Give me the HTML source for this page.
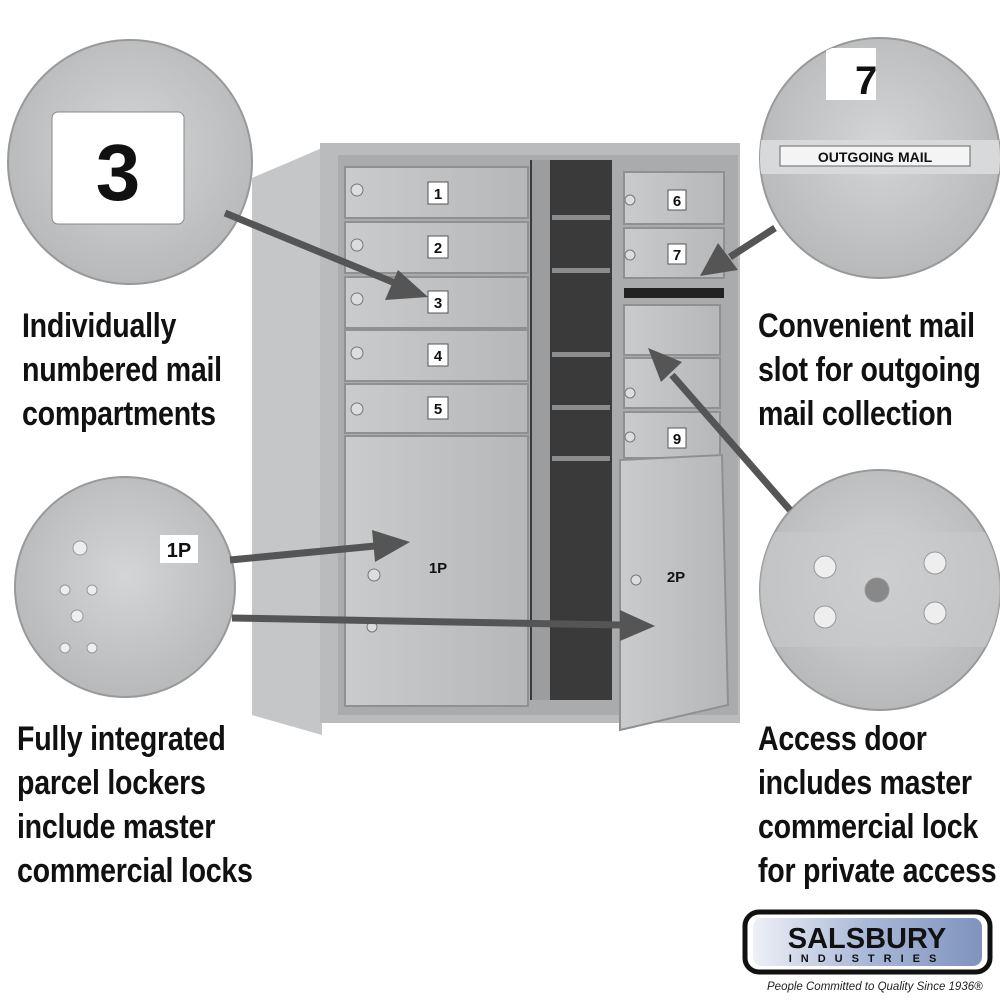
<!DOCTYPE html>
<html><head><style>
body{margin:0;width:1000px;height:1000px;background:#fff;position:relative;overflow:hidden;font-family:"Liberation Sans",sans-serif}
.t{position:absolute;font-weight:bold;font-size:34px;line-height:44px;color:#111;white-space:nowrap;transform:scaleX(0.84);transform-origin:0 0;letter-spacing:-0.3px}
</style></head><body>
<svg width="1000" height="1000" style="position:absolute;left:0;top:0">
<defs>
<radialGradient id="cg" cx="50%" cy="45%" r="60%"><stop offset="0" stop-color="#d4d5d6"/><stop offset="1" stop-color="#b4b6b8"/></radialGradient>
<linearGradient id="dg" x1="0" x2="1"><stop offset="0" stop-color="#c9cbcd"/><stop offset="1" stop-color="#b5b7b9"/></linearGradient>
<linearGradient id="lg" x1="0" x2="1"><stop offset="0" stop-color="#eef0f6"/><stop offset=".5" stop-color="#a8b8d8"/><stop offset="1" stop-color="#7f93bd"/></linearGradient>
<clipPath id="c2"><circle cx="880" cy="158" r="120"/></clipPath>
<clipPath id="c4"><circle cx="880" cy="590" r="120"/></clipPath>
</defs>
<polygon points="252,178 322,148 322,735 252,715" fill="#c4c6c8"/>
<rect x="320" y="143" width="420" height="580" fill="#b9bbbd"/>
<rect x="338" y="155" width="400" height="560" fill="#a9abad"/>
<rect x="530" y="160" width="82" height="540" fill="#3a3a3a"/>
<g fill="#8a8c8e"><rect x="552" y="215" width="58" height="5"/><rect x="552" y="268" width="58" height="5"/><rect x="552" y="352" width="58" height="5"/><rect x="552" y="405" width="58" height="5"/><rect x="552" y="456" width="58" height="5"/></g>
<rect x="532" y="160" width="18" height="540" fill="#9b9d9f"/>
<g fill="url(#dg)" stroke="#8e9092" stroke-width="2">
<rect x="345" y="167" width="183" height="51"/><rect x="345" y="222" width="183" height="51"/><rect x="345" y="277" width="183" height="51"/><rect x="345" y="330" width="183" height="51"/><rect x="345" y="384" width="183" height="49"/><rect x="345" y="436" width="183" height="270"/>
<rect x="624" y="172" width="100" height="52"/><rect x="624" y="228" width="100" height="50"/><rect x="624" y="305" width="96" height="50"/><rect x="624" y="358" width="96" height="50"/><rect x="624" y="412" width="96" height="46"/>
<polygon points="620,460 722,455 728,705 620,730"/>
</g>
<rect x="624" y="288" width="100" height="10" fill="#222"/>
<g fill="#ddd" stroke="#777"><circle cx="357" cy="190" r="6"/><circle cx="357" cy="245" r="6"/><circle cx="357" cy="299" r="6"/><circle cx="357" cy="353" r="6"/><circle cx="357" cy="409" r="6"/><circle cx="630" cy="200" r="5"/><circle cx="630" cy="255" r="5"/><circle cx="630" cy="393" r="5"/><circle cx="630" cy="437" r="5"/><circle cx="374" cy="575" r="6"/><circle cx="372" cy="627" r="5"/><circle cx="636" cy="580" r="5"/></g>
<g fill="#fff" stroke="#555">
<rect x="428" y="182" width="20" height="22"/><rect x="428" y="236" width="20" height="22"/><rect x="428" y="291" width="20" height="22"/><rect x="428" y="344" width="20" height="22"/><rect x="428" y="397" width="20" height="22"/><rect x="668" y="190" width="18" height="20"/><rect x="668" y="244" width="18" height="20"/><rect x="668" y="428" width="18" height="20"/>
</g>
<g font-family="Liberation Sans" font-size="15" font-weight="bold" fill="#111" text-anchor="middle">
<text x="438" y="199">1</text><text x="438" y="253">2</text><text x="438" y="308">3</text><text x="438" y="361">4</text><text x="438" y="414">5</text><text x="677" y="206">6</text><text x="677" y="260">7</text><text x="677" y="444">9</text><text x="438" y="573">1P</text><text x="676" y="582">2P</text>
</g>
<circle cx="130" cy="162" r="122" fill="url(#cg)" stroke="#999" stroke-width="2"/>
<rect x="52" y="112" width="132" height="112" rx="6" fill="#fff" stroke="#888"/>
<text x="118" y="200" font-family="Liberation Sans" font-size="80" font-weight="bold" text-anchor="middle" fill="#111">3</text>
<circle cx="880" cy="158" r="120" fill="url(#cg)" stroke="#999" stroke-width="2"/>
<g clip-path="url(#c2)">
<rect x="826" y="48" width="50" height="52" fill="#fff"/>
<text x="855" y="94" font-family="Liberation Sans" font-size="40" font-weight="bold" fill="#111">7</text>
<rect x="760" y="140" width="240" height="34" fill="#d8d9da"/>
<rect x="780" y="146" width="190" height="20" fill="#f4f4f4" stroke="#666"/>
<text x="875" y="162" font-family="Liberation Sans" font-size="14" font-weight="bold" text-anchor="middle" fill="#111">OUTGOING MAIL</text>
</g>
<circle cx="125" cy="587" r="110" fill="url(#cg)" stroke="#999" stroke-width="2"/>
<rect x="160" y="535" width="38" height="28" fill="#fff"/>
<text x="179" y="557" font-family="Liberation Sans" font-size="20" font-weight="bold" text-anchor="middle" fill="#111">1P</text>
<g fill="#eee" stroke="#999"><circle cx="80" cy="548" r="7"/><circle cx="77" cy="616" r="6"/><circle cx="65" cy="590" r="5"/><circle cx="92" cy="590" r="5"/><circle cx="65" cy="648" r="5"/><circle cx="92" cy="648" r="5"/></g>
<circle cx="880" cy="590" r="120" fill="url(#cg)" stroke="#999" stroke-width="2"/>
<g clip-path="url(#c4)">
<rect x="760" y="532" width="240" height="115" fill="#c8cacc" opacity=".6"/>
<g fill="#eee" stroke="#999"><circle cx="825" cy="567" r="11"/><circle cx="935" cy="563" r="11"/><circle cx="825" cy="617" r="11"/><circle cx="935" cy="613" r="11"/><circle cx="877" cy="590" r="12" fill="#888"/></g>
</g>
<g stroke="#555" stroke-width="7" fill="#555">
<line x1="225" y1="213" x2="395" y2="283"/><polygon points="428,297 385,300 398,270" stroke="none"/>
<line x1="230" y1="560" x2="375" y2="546"/><polygon points="410,542 372,530 375,562" stroke="none"/>
<line x1="232" y1="618" x2="620" y2="625"/><polygon points="655,626 620,610 620,641" stroke="none"/>
<line x1="775" y1="228" x2="730" y2="257"/><polygon points="700,276 718,243 738,270" stroke="none"/>
<line x1="790" y1="510" x2="672" y2="375"/><polygon points="648,348 682,362 661,382" stroke="none"/>
</g>
<rect x="745" y="912" width="245" height="60" rx="14" fill="#fff" stroke="#111" stroke-width="5"/>
<rect x="753" y="918" width="229" height="48" rx="9" fill="url(#lg)"/>
<text x="867" y="948" font-family="Liberation Sans" font-size="29" font-weight="bold" text-anchor="middle" fill="#111">SALSBURY</text>
<text x="867" y="962" font-family="Liberation Sans" font-size="11" font-weight="bold" text-anchor="middle" fill="#111" letter-spacing="9">INDUSTRIES</text>
<text x="767" y="990" font-family="Liberation Sans" font-size="11.5" font-style="italic" fill="#222">People Committed to Quality Since 1936®</text>
</svg>
<div class="t" style="left:22px;top:304px">Individually<br>numbered mail<br>compartments</div>
<div class="t" style="left:758px;top:304px">Convenient mail<br>slot for outgoing<br>mail collection</div>
<div class="t" style="left:17px;top:717px">Fully integrated<br>parcel lockers<br>include master<br>commercial locks</div>
<div class="t" style="left:758px;top:717px">Access door<br>includes master<br>commercial lock<br>for private access</div>
</body></html>
